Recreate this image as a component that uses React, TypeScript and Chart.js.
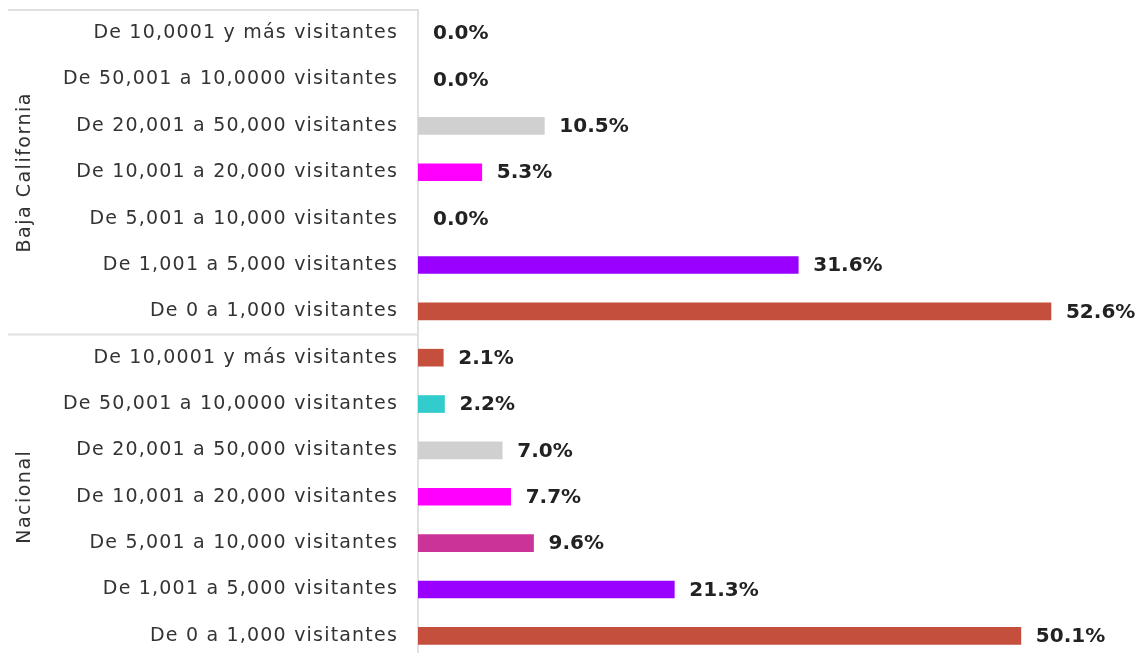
import React, { useEffect, useRef } from "react";
import { Chart, registerables } from "chart.js";

Chart.register(...registerables);

const rangeLabels = [
  "De 10,0001 y más visitantes",
  "De 50,001 a 10,0000 visitantes",
  "De 20,001 a 50,000 visitantes",
  "De 10,001 a 20,000 visitantes",
  "De 5,001 a 10,000 visitantes",
  "De 1,001 a 5,000 visitantes",
  "De 0 a 1,000 visitantes",
];
const groups = ["Baja California", "Nacional"];
const bajaCaliforniaValues = [0.0, 0.0, 10.5, 5.3, 0.0, 31.6, 52.6];
const nacionalValues = [2.1, 2.2, 7.0, 7.7, 9.6, 21.3, 50.1];
const rangeColors = ["#c44f3c", "#33cccc", "#d0d0d0", "#ff00ff", "#cc3399", "#9900ff", "#c44f3c"];

const FONT = "'DejaVu Sans', sans-serif";

export default function App() {
  const ref = useRef<HTMLCanvasElement>(null);
  useEffect(() => {
    document.body.style.margin = "0";
    document.body.style.overflow = "hidden";
    document.documentElement.style.overflow = "hidden";
    const labels = [...rangeLabels, ...rangeLabels];
    const values = [...bajaCaliforniaValues, ...nacionalValues];
    const colors = [...rangeColors, ...rangeColors].map((c, i) => (values[i] === 0 ? "rgba(0,0,0,0)" : c));

    const groupPlugin = {
      id: "groups",
      beforeDraw(chart: any) {
        (chart.ctx as any).letterSpacing = "1.2px";
      },
      afterDraw(chart: any) {
        const { ctx, chartArea } = chart;
        const y = chart.scales.y;
        const n = rangeLabels.length;
        ctx.save();
        ctx.strokeStyle = "#e0e0e0";
        ctx.lineWidth = 2;
        const step = (chartArea.bottom - chartArea.top) / labels.length;
        for (let g = 0; g <= groups.length; g++) {
          const yy = chartArea.top + g * n * step;
          ctx.beginPath();
          ctx.moveTo(8, yy);
          ctx.lineTo(chartArea.left, yy);
          ctx.stroke();
        }
        ctx.fillStyle = "#333333";
        ctx.font = `19px ${FONT}`;
        ctx.letterSpacing = "1.5px";
        ctx.textAlign = "center";
        ctx.textBaseline = "middle";
        groups.forEach((g, i) => {
          const yc = (y.getPixelForValue(i * n) + y.getPixelForValue(i * n + n - 1)) / 2;
          ctx.save();
          ctx.translate(25, yc);
          ctx.rotate(-Math.PI / 2);
          ctx.fillText(g, 0, 0);
          ctx.restore();
        });
        const meta = chart.getDatasetMeta(0);
        ctx.letterSpacing = "0px";
        ctx.fillStyle = "#222222";
        ctx.font = `bold 20px ${FONT}`;
        ctx.textAlign = "left";
        meta.data.forEach((bar: any, i: number) => {
          ctx.fillText(values[i].toFixed(1) + "%", bar.x + 15, bar.y + 1);
        });
        ctx.restore();
        ctx.letterSpacing = "0px";
      },
    };

    const chart = new Chart(ref.current!, {
      type: "bar",
      data: {
        labels,
        datasets: [
          {
            data: values,
            backgroundColor: colors,
            barThickness: 17,
            borderWidth: 0,
          },
        ],
      },
      options: {
        indexAxis: "y",
        animation: false,
        responsive: false,
        maintainAspectRatio: false,
        layout: { padding: { top: 10, bottom: 11, left: 0, right: 1 } },
        plugins: { legend: { display: false }, tooltip: { enabled: false } },
        scales: {
          x: { display: false, min: 0, max: 60 },
          y: {
            afterFit(scale: any) {
              scale.width = 418;
              scale.paddingTop = 0;
              scale.paddingBottom = 0;
            },
            grid: { display: false, drawTicks: false },
            border: { display: true, color: "#e0e0e0", width: 2 },
            ticks: {
              padding: 20,
              color: "#333333",
              font: { family: FONT, size: 19 },
              autoSkip: false,
            },
          },
        },
      },
      plugins: [groupPlugin],
    });
    return () => chart.destroy();
  }, []);
  return (
    <div style={{ width: 1141, height: 653, overflow: "hidden" }}>
      <canvas ref={ref} width={1141} height={670} style={{ display: "block" }} />
    </div>
  );
}
